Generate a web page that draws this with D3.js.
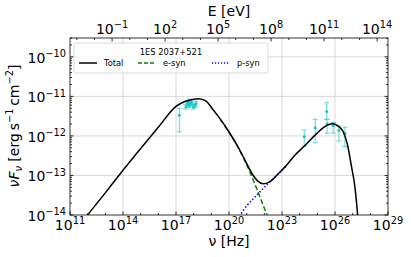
<!DOCTYPE html>
<html><head><meta charset="utf-8">
<script src="https://cdn.jsdelivr.net/npm/d3@7"></script>
<style>body{margin:0;background:#fff}svg{display:block;font-family:"DejaVu Sans",sans-serif}</style>
</head><body><svg id="c" width="411" height="257"></svg>
<script>
// ---- data (log10 values) ----
const totalLogNu = [11.8,12,13,14,15,16,17,17.5,18,18.3,18.7,19.1,19.5,20,20.5,20.9,21.3,21.65,21.95,22.3,22.8,23.2,23.73,24.3,24.87,25.34,25.65,25.9,26.2,26.47,26.7,26.94,27.13,27.26,27.34];
const totalLogF  = [-14.12,-14.0,-13.44,-12.87,-12.32,-11.78,-11.25,-11.13,-11.07,-11.06,-11.12,-11.34,-11.57,-11.9,-12.27,-12.61,-12.95,-13.15,-13.21,-13.16,-12.95,-12.77,-12.49,-12.24,-11.98,-11.79,-11.71,-11.69,-11.76,-11.9,-12.21,-12.79,-13.3,-13.89,-14.4];
const esynLogNu = [19.5,20,20.5,20.9,21.2,21.6,22.0,22.16,22.35];
const esynLogF  = [-11.58,-11.91,-12.28,-12.63,-12.93,-13.37,-13.83,-14.0,-14.2];
const psynLogNu = [20.3,20.62,21.0,21.5,22.0,22.4,22.8,23.2];
const psynLogF  = [-14.16,-14.0,-13.77,-13.53,-13.3,-13.12,-12.96,-12.78];
// observed points: log nu, log F, log F low, log F high
const obsLogNu = [17.19,17.56,17.64,17.70,17.75,17.83,17.89,17.98,18.07,18.13,24.26,24.88,25.53,25.55,25.90,26.22,26.56];
const obsLogF  = [-11.48,-11.26,-11.18,-11.22,-11.13,-11.20,-11.15,-11.26,-11.23,-11.18,-12.02,-11.79,-11.38,-11.70,-11.74,-11.86,-11.93];
const obsLogLo = [-11.90,-11.32,-11.24,-11.28,-11.19,-11.26,-11.21,-11.32,-11.29,-11.24,-12.26,-12.17,-11.58,-11.93,-11.93,-12.13,-12.27];
const obsLogHi = [-11.30,-11.20,-11.12,-11.16,-11.07,-11.14,-11.09,-11.20,-11.17,-11.12,-11.85,-11.58,-11.16,-11.58,-11.66,-11.75,-11.78];
const xTickExp = [11,14,17,20,23,26,29];
const yTickExp = [-14,-13,-12,-11,-10];
const eTickExp = [-1,2,5,8,11,14];
const legendTitle = "1ES 2037+521";
const seriesNames = ["Total","e-syn","p-syn"];
const hEv = 4.135667696e-15; // eV s

const svg = d3.select("#c");
const X0=70,X1=388,Y0=38,Y1=215;
const x = d3.scaleLog().domain([1e11,1e29]).range([X0,X1]);
const y = d3.scaleLog().domain([1e-14,3e-10]).range([Y1,Y0]);
const p10 = v=>Math.pow(10,v);

svg.append("defs").append("clipPath").attr("id","clip").append("rect")
  .attr("x",X0).attr("y",Y0).attr("width",X1-X0).attr("height",Y1-Y0);

// grid
const g = svg.append("g");
g.selectAll(".gx").data(xTickExp.slice(1,-1)).enter().append("line")
  .attr("x1",d=>x(p10(d))).attr("x2",d=>x(p10(d))).attr("y1",Y0).attr("y2",Y1)
  .attr("stroke","#cfcfcf").attr("stroke-width",0.8);
g.selectAll(".gy").data(yTickExp.slice(1)).enter().append("line")
  .attr("y1",d=>y(p10(d))).attr("y2",d=>y(p10(d))).attr("x1",X0).attr("x2",X1)
  .attr("stroke","#cfcfcf").attr("stroke-width",0.8);

// ticks (inward)
const tk = svg.append("g").attr("stroke","#000").attr("stroke-width",0.8);
xTickExp.forEach(e=>{const px=x(p10(e));
  tk.append("line").attr("x1",px).attr("x2",px).attr("y1",Y1).attr("y2",Y1-3.5);});
for(let e=11;e<=29;e++){ if((e-11)%3){const px=x(p10(e));
  tk.append("line").attr("x1",px).attr("x2",px).attr("y1",Y1).attr("y2",Y1-2);}}
eTickExp.forEach(e=>{const px=x(p10(e)/hEv);
  tk.append("line").attr("x1",px).attr("x2",px).attr("y1",Y0).attr("y2",Y0+3.5);});
for(let e=-3;e<=15;e++){ const px=x(p10(e)/hEv); if(px>X0&&px<X1&&((e+1)%3)){
  tk.append("line").attr("x1",px).attr("x2",px).attr("y1",Y0).attr("y2",Y0+2);}}
yTickExp.forEach(e=>{const py=y(p10(e));
  [[X0,X0+3.5],[X1,X1-3.5]].forEach(s=>tk.append("line").attr("x1",s[0]).attr("x2",s[1]).attr("y1",py).attr("y2",py));});
for(let e=-14;e<=-10;e++){ for(let m=2;m<=9;m++){ const v=m*p10(e); if(v>3e-10) continue; const py=y(v);
  [[X0,X0+2],[X1,X1-2]].forEach(s=>tk.append("line").attr("x1",s[0]).attr("x2",s[1]).attr("y1",py).attr("y2",py));}}

// tick labels
function pow10Label(sel, base, exp, fs){
  sel.append("tspan").text(base).attr("font-size",fs);
  sel.append("tspan").text(String(exp).replace("-","\u2212")).attr("font-size",fs*0.7).attr("dy",-fs*0.42);
}
xTickExp.forEach(e=>{const t=svg.append("text").attr("x",x(p10(e))).attr("y",230).attr("text-anchor","middle");pow10Label(t,"10",e,14);});
eTickExp.forEach(e=>{const t=svg.append("text").attr("x",x(p10(e)/hEv)).attr("y",33.5).attr("text-anchor","middle");pow10Label(t,"10",e,14);});
yTickExp.forEach(e=>{const t=svg.append("text").attr("x",66).attr("y",y(p10(e))+6).attr("text-anchor","end");pow10Label(t,"10",e,14);});

// axis labels
svg.append("text").attr("x",229).attr("y",246).attr("text-anchor","middle").attr("font-size",14).text("\u03bd [Hz]");
svg.append("text").attr("x",229).attr("y",16).attr("text-anchor","middle").attr("font-size",14).text("E [eV]");
const yl = svg.append("text").attr("transform","translate(19,126) rotate(-90)").attr("text-anchor","middle").attr("font-size",14);
yl.append("tspan").text("\u03bdF").attr("font-style","italic");
yl.append("tspan").text("\u03bd").attr("font-style","italic").attr("font-size",9.8).attr("dy",3);
yl.append("tspan").text(" [erg\u2009s").attr("dy",-3);
yl.append("tspan").text("\u22121").attr("font-size",9.8).attr("dy",-6);
yl.append("tspan").text("\u2009cm").attr("dy",6);
yl.append("tspan").text("\u22122").attr("font-size",9.8).attr("dy",-6);
yl.append("tspan").text("]").attr("dy",6);

// curves
const plot = svg.append("g").attr("clip-path","url(#clip)");
const line = d3.line().x(d=>x(p10(d[0]))).y(d=>y(p10(d[1]))).curve(d3.curveMonotoneX);
const zip=(a,b)=>a.map((v,i)=>[v,b[i]]);
plot.append("path").attr("d",line(zip(esynLogNu,esynLogF))).attr("fill","none").attr("stroke","#008000").attr("stroke-width",1.5).attr("stroke-dasharray","5,2.5");
plot.append("path").attr("d",line(zip(psynLogNu,psynLogF))).attr("fill","none").attr("stroke","#0000ff").attr("stroke-width",1.5).attr("stroke-dasharray","1.5,2");

// data points
const col="#1cc6c6";
obsLogNu.forEach((n,i)=>{
  const px=x(p10(n));
  plot.append("line").attr("x1",px).attr("x2",px).attr("y1",y(p10(obsLogLo[i]))).attr("y2",y(p10(obsLogHi[i]))).attr("stroke",col).attr("stroke-opacity",0.7).attr("stroke-width",1);
  [obsLogLo[i],obsLogHi[i]].forEach(v=>plot.append("line").attr("x1",px-2.5).attr("x2",px+2.5).attr("y1",y(p10(v))).attr("y2",y(p10(v))).attr("stroke",col).attr("stroke-opacity",0.7).attr("stroke-width",1));
  plot.append("circle").attr("cx",px).attr("cy",y(p10(obsLogF[i]))).attr("r",1.5).attr("fill",col);
});
plot.append("path").attr("d",line(zip(totalLogNu,totalLogF))).attr("fill","none").attr("stroke","#000").attr("stroke-width",1.5);

// spines
svg.append("rect").attr("x",X0).attr("y",Y0).attr("width",X1-X0).attr("height",Y1-Y0).attr("fill","none").attr("stroke","#000").attr("stroke-width",0.8);

// legend
const lg = svg.append("g");
lg.append("rect").attr("x",74).attr("y",43).attr("width",194).attr("height",30).attr("rx",2.5)
  .attr("fill","#fff").attr("fill-opacity",0.8).attr("stroke","#d0d0d0").attr("stroke-width",0.8);
lg.append("text").attr("x",171).attr("y",55).attr("text-anchor","middle").attr("font-size",8.3).text(legendTitle);
const legStyles=[{c:"#000",d:null,x:79},{c:"#008000",d:"4,2",x:138},{c:"#0000ff",d:"1.2,1.8",x:212}];
seriesNames.forEach((nm,i)=>{const s=legStyles[i];
  const l=lg.append("line").attr("x1",s.x).attr("x2",s.x+18).attr("y1",63).attr("y2",63).attr("stroke",s.c).attr("stroke-width",1.5);
  if(s.d) l.attr("stroke-dasharray",s.d);
  lg.append("text").attr("x",s.x+25).attr("y",66).attr("font-size",8.3).text(nm);
});
</script></body></html>
